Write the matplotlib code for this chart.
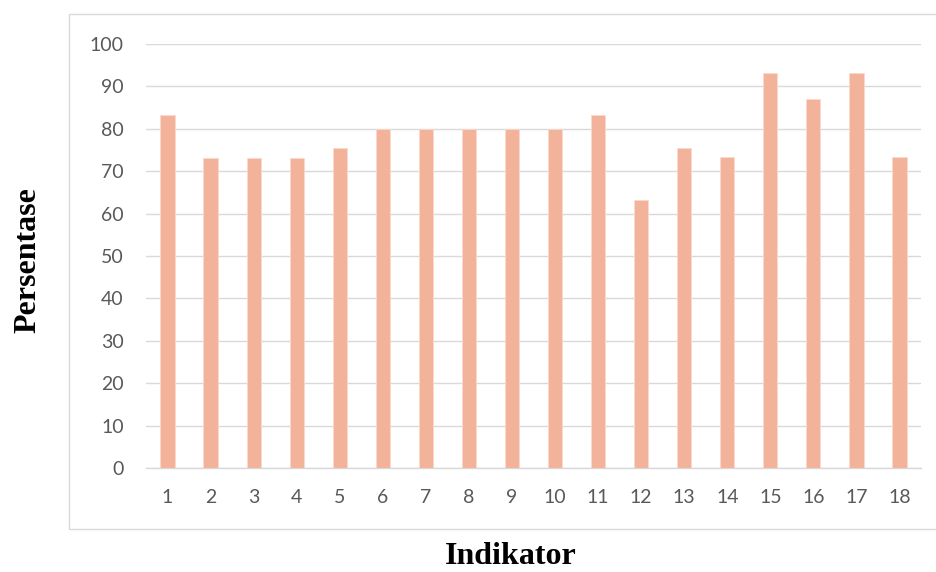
import matplotlib
matplotlib.use("Agg")
import matplotlib.pyplot as plt
from matplotlib.patches import Rectangle

indikator = [str(i) for i in range(1, 19)]
persentase = [83.3, 73.0, 73.0, 73.0, 75.5, 80.0, 80.0, 80.0, 80.0, 80.0,
              83.3, 63.3, 75.5, 73.3, 93.0, 87.0, 93.0, 73.3]
y_ticks = list(range(0, 101, 10))

fig = plt.figure(figsize=(9.36, 5.72), dpi=100)
fig.patch.set_facecolor("white")

# chart-area frame
fig.patches.append(Rectangle((69 / 936, 43 / 572), 1.0, 515 / 572,
                             transform=fig.transFigure, fill=False,
                             edgecolor="#D9D9D9", linewidth=1.0, clip_on=False))

ax = fig.add_axes([146 / 936, 1 - 468.3 / 572, 775 / 936, (468.3 - 43.7) / 572])
x = range(len(indikator))
ax.bar(x, persentase, width=0.33, color="#F3B29A", edgecolor="#FBD9CC",
       linewidth=0.6, zorder=3)

ax.set_xlim(-0.5, len(indikator) - 0.5)
ax.set_ylim(0, 100)
ax.set_yticks(y_ticks)
ax.set_xticks(list(x))
ax.set_xticklabels(indikator)
ax.yaxis.grid(True, color="#D9D9D9", linewidth=1.0, zorder=0)
ax.set_axisbelow(True)
for s in ["top", "right", "left"]:
    ax.spines[s].set_visible(False)
ax.spines["bottom"].set_color("#D9D9D9")
ax.spines["bottom"].set_linewidth(1.0)
ax.tick_params(axis="both", length=0, labelcolor="#595959", labelsize=14)
ax.tick_params(axis="y", pad=16)
ax.tick_params(axis="x", pad=15)
for lab in ax.get_xticklabels() + ax.get_yticklabels():
    lab.set_family(["Lato", "DejaVu Sans"])

fig.text(511 / 936, 1 - 557 / 572, "Indikator", ha="center", va="center",
         fontsize=23, fontweight="bold", family=["Liberation Serif"])
fig.text(28 / 936, 1 - 260 / 572, "Persentase", ha="center", va="center",
         rotation=90, fontsize=23, fontweight="bold", family=["Liberation Serif"])

fig.savefig("out.png", dpi=100, facecolor="white")
